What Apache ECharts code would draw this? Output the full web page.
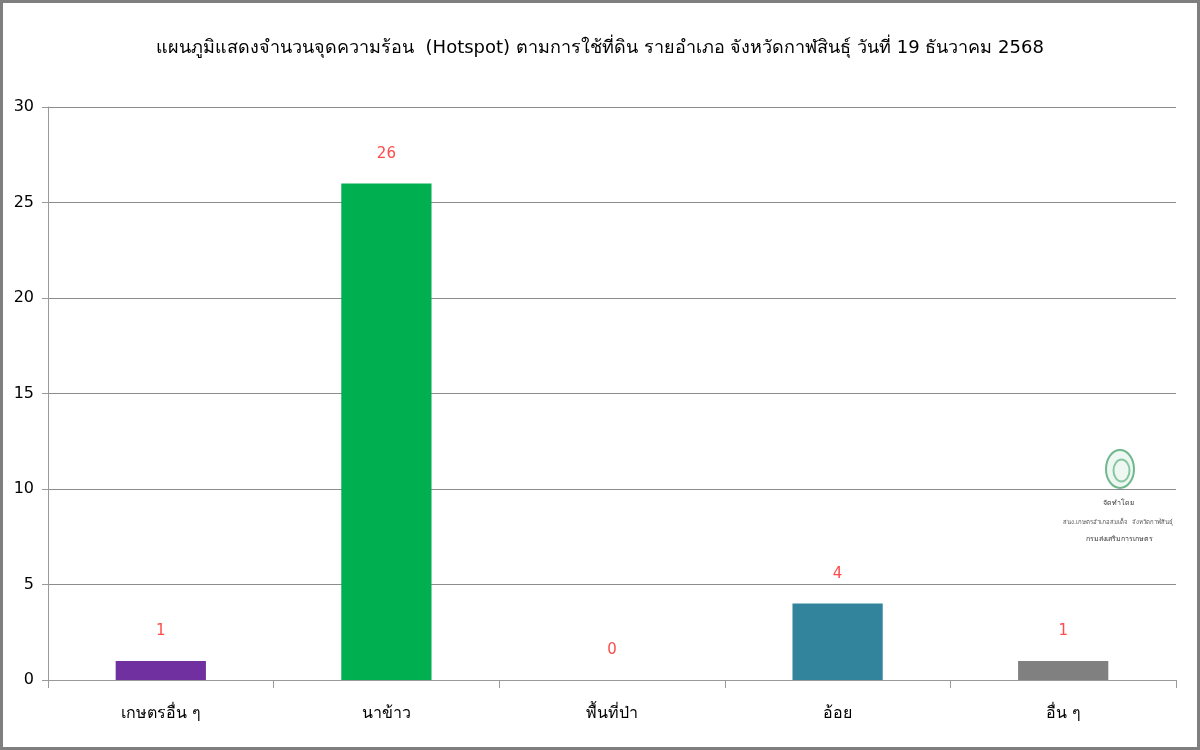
<!DOCTYPE html>
<html>
<head>
<meta charset="utf-8">
<script src="https://cdn.jsdelivr.net/npm/echarts@6/dist/echarts.min.js"></script>
<style>
  html, body { margin: 0; padding: 0; background: #fff; }
  #chart { width: 1200px; height: 750px; box-sizing: border-box; border: 3px solid #7f7f7f; }
</style>
</head>
<body>
<div id="chart"></div>
<script>
// ข้อมูลจุดความร้อน
var categories = ['เกษตรอื่น ๆ', 'นาข้าว', 'พื้นที่ป่า', 'อ้อย', 'อื่น ๆ'];
var hotspots = [1, 26, 0, 4, 1];
var barColors = ['#7030A0', '#00B050', '#808080', '#31849B', '#808080'];
var yTicks = [0, 5, 10, 15, 20, 25, 30];

var titleText = 'แผนภูมิแสดงจำนวนจุดความร้อน  (Hotspot) ตามการใช้ที่ดิน รายอำเภอ จังหวัดกาฬสินธุ์ วันที่ 19 ธันวาคม 2568';
var fontFam = 'Tahoma, "DejaVu Sans", "Noto Sans", sans-serif';

var chartDom = document.getElementById('chart');
var myChart = echarts.init(chartDom);

var seriesData = [];
for (var i = 0; i < hotspots.length; i++) {
  seriesData.push({ value: hotspots[i], itemStyle: { color: barColors[i] } });
}

var option = {
  animation: false,
  textStyle: { fontFamily: fontFam },
  title: {
    text: titleText,
    left: 'center',
    top: 31,
    textStyle: { fontSize: 18, fontWeight: 'normal', color: '#000', fontFamily: fontFam }
  },
  grid: {
    left: 45,
    right: 21,
    top: 104,
    bottom: 67
  },
  xAxis: {
    type: 'category',
    data: categories,
    axisLine: { show: true, lineStyle: { color: '#9a9a9a', width: 1 } },
    axisTick: { show: true, length: 8, lineStyle: { color: '#9a9a9a' } },
    axisLabel: { color: '#000', fontSize: 16, margin: 26, fontFamily: fontFam }
  },
  yAxis: {
    type: 'value',
    min: yTicks[0],
    max: yTicks[yTicks.length - 1],
    interval: 5,
    axisLine: { show: true, lineStyle: { color: '#9a9a9a' } },
    axisTick: { show: true, length: 6, lineStyle: { color: '#9a9a9a' } },
    axisLabel: { color: '#000', fontSize: 16, margin: 14, fontFamily: fontFam },
    splitLine: { show: true, lineStyle: { color: '#8c8c8c', width: 1 } }
  },
  graphic: [
    {
      type: 'ellipse',
      left: 1102,
      top: 446,
      shape: { cx: 15, cy: 20, rx: 14, ry: 19 },
      style: { fill: '#eef7f1', stroke: '#6fb88e', lineWidth: 2 }
    },
    {
      type: 'ellipse',
      left: 1108,
      top: 454,
      shape: { cx: 9, cy: 12, rx: 8, ry: 11 },
      style: { fill: 'none', stroke: '#86c7a2', lineWidth: 2 }
    },
    {
      type: 'text', left: 1100, top: 497,
      style: { text: 'จัดทำโดย', fontSize: 7, fill: '#333', fontFamily: fontFam }
    },
    {
      type: 'text', left: 1060, top: 516,
      style: { text: 'สนง.เกษตรอำเภอสมเด็จ  จังหวัดกาฬสินธุ์', fontSize: 6, fill: '#555', fontFamily: fontFam }
    },
    {
      type: 'text', left: 1083, top: 533,
      style: { text: 'กรมส่งเสริมการเกษตร', fontSize: 7, fill: '#333', fontFamily: fontFam }
    }
  ],
  series: [
    {
      type: 'bar',
      data: seriesData,
      barWidth: '40%',
      label: {
        show: true,
        position: 'top',
        distance: 22,
        color: '#ff4b4b',
        fontSize: 15,
        fontFamily: fontFam
      }
    }
  ]
};

myChart.setOption(option);
</script>
</body>
</html>
